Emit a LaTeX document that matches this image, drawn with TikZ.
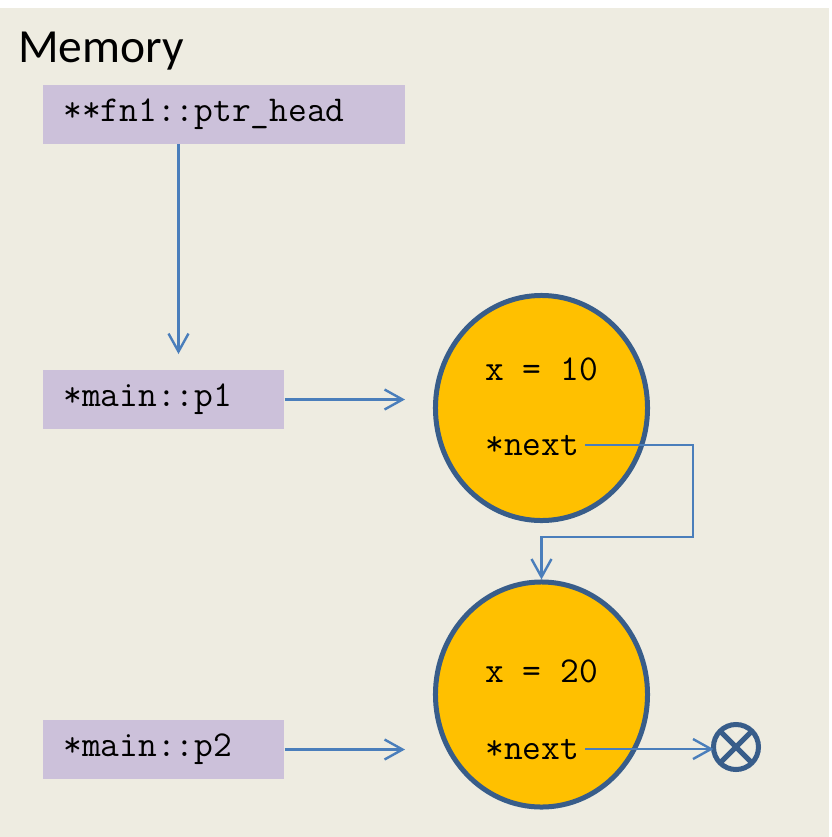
\documentclass[tikz,border=0pt]{standalone}
\usepackage{fontspec}
\setmainfont{Carlito}
\usetikzlibrary{arrows.meta,positioning,shapes.geometric}
\definecolor{MemBeige}{HTML}{EEECE1}
\definecolor{MemLilac}{HTML}{CCC1DA}
\definecolor{MemGold}{HTML}{FFC000}
\definecolor{MemEdge}{HTML}{385D8A}
\definecolor{MemLink}{HTML}{4A7EBB}

\begin{document}
\begin{tikzpicture}[x=0.025cm,y=-0.025cm,
    var/.style={fill=MemLilac,inner xsep=0.5cm,inner ysep=0pt,minimum height=1.475cm,
      align=left,anchor=west,font=\fontsize{25.9}{30}\selectfont\ttfamily},
    cell/.style={ellipse,draw=MemEdge,line width=0.125cm,fill=MemGold,
      minimum width=5.3cm,minimum height=5.625cm,inner sep=0pt},
    field/.style={inner xsep=0.15cm,inner ysep=0pt,anchor=base west,
      font=\fontsize{25.9}{30}\selectfont\ttfamily},
    link/.style={-{Straight Barb[length=0.45cm,width=0.5cm]},line width=0.06cm,MemLink}]
    \useasboundingbox (0,0) rectangle (831,837);
    \fill[MemBeige] (0,8) rectangle (829,837);
    \node[anchor=base west,inner sep=0pt,font=\fontsize{33.8}{40}\selectfont] (title)
      at (18,62) {Memory};
    \node[var,text width=8.05cm] (head) at (43,114.5) {**fn1::ptr\_head};
    \node[var,text width=5.025cm] (p1) at (43,399.5) {*main::p1};
    \node[var,text width=5.025cm] (p2) at (43,749.5) {*main::p2};
    \node[cell] (ca) at (541.5,408) {};
    \node[cell] (cb) at (541.5,694.5) {};
    \node[field] (xa) at (479,380) {x = 10};
    \node[field] (na) at (479,455) {*next};
    \node[field] (xb) at (479,682) {x = 20};
    \node[field] (nb) at (479,759) {*next};
    \node[circle,draw=MemEdge,line width=0.125cm,minimum size=1.125cm,inner sep=0pt,
      outer sep=0pt] (nil) at (736,747) {};
    \draw[MemEdge,line width=0.125cm] (nil.45) -- (nil.225) (nil.135) -- (nil.315);
    \coordinate (headend) at (178.5,354);
    \coordinate (p1end) at (405,401);
    \coordinate (p2end) at (405,748);
    \draw[link] (head.south -| headend) -- (headend);
    \draw[link] (p1.east) -- (p1.east -| p1end);
    \draw[link] (p2.east) -- (p2.east -| p2end);
    \draw[link] (na.east) -| (693,537) -| (cb.north);
    \draw[link] (nb.east) -- (nb.east -| nil.west);
  \end{tikzpicture}
\end{document}
